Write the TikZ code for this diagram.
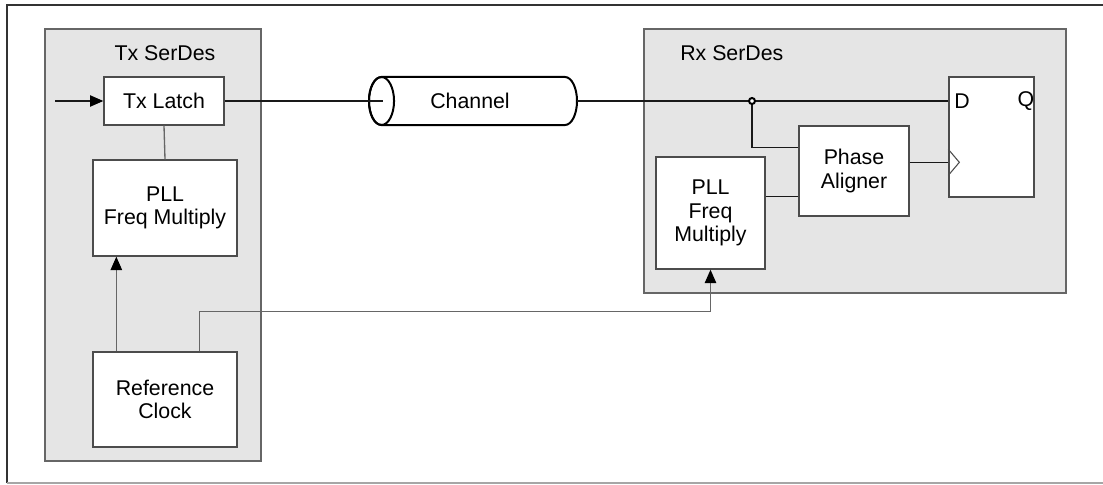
\documentclass[tikz,border=0pt]{standalone}
\usepackage{fontspec}
\setmainfont{Liberation Sans}
\usetikzlibrary{calc,arrows.meta}
\newlength\pxu
\setlength\pxu{0.75pt}
\begin{document}
\begin{tikzpicture}[x=0.75pt,y=-0.75pt,
  font=\fontsize{16}{17.5}\selectfont,
  container/.style={draw=black!60,line width=1.2pt,fill=black!10,inner sep=0pt},
  blockbox/.style={draw=black!70,line width=1pt,fill=white,inner sep=0pt,align=center},
  wire/.style={draw=black!90,line width=0.9pt},
  graywire/.style={draw=black!60,line width=1pt},
  arr/.style={-{Triangle[length=10pt,width=8.5pt,fill=black,color=black]}},
  lbl/.style={inner sep=0pt}]
\useasboundingbox (0,0) rectangle (1103,485);
\fill[white] (0,0) rectangle (1103,485);
% outer frame
\draw[black!80,line width=1.2pt] (7,483) -- (7,5) -- (1103,5);
\draw[black!35,line width=1.2pt] (7,483) -- (1103,483);

% containers
\node[container,minimum width=216\pxu,minimum height=432\pxu] (txser) at (153,245) {};
\node[lbl] (txlbl) at (165,53) {Tx SerDes};
\node[container,minimum width=422\pxu,minimum height=264\pxu] (rxser) at (855,161) {};
\node[lbl,anchor=west] (rxlbl) at (680,53) {Rx SerDes};

% Tx blocks
\node[blockbox,minimum width=120\pxu,minimum height=48\pxu] (txlatch) at (164,101) {Tx Latch};
\node[blockbox,minimum width=144\pxu,minimum height=96\pxu] (txpll) at (165,208) {PLL\\Freq Multiply};
\node[blockbox,minimum width=144\pxu,minimum height=95\pxu] (refclk) at (165,399.5) {Reference\\Clock};

% Rx blocks
\node[blockbox,minimum width=85\pxu,minimum height=120\pxu] (ff) at (991.5,137) {};
\node[lbl] (dlbl) at (962,101) {D};
\node[lbl] (qlbl) at (1026,101) {Q};
\node[blockbox,minimum width=110\pxu,minimum height=90\pxu] (pa) at (854,171) {Phase\\Aligner};
\node[blockbox,minimum width=109\pxu,minimum height=112\pxu] (rxpll) at (710.5,213) {PLL\\Freq\\Multiply};

% channel
\draw[black,line width=1.5pt,fill=white] (381.5,77) -- (565,77) arc[start angle=90,end angle=-90,x radius=9pt,y radius=18pt] -- (381.5,125) arc[start angle=-90,end angle=-270,x radius=9.4pt,y radius=18pt] -- cycle;
\draw[black,line width=1.5pt] (381.5,101) ellipse[x radius=9.4pt,y radius=18pt];
\node[lbl,minimum width=208\pxu,minimum height=48\pxu] (channel) at (473,101) {};
\node[lbl] (chlbl) at (470,101) {Channel};
\coordinate (chin) at (383,101);
\coordinate (chout) at (577,101);

% clock triangle
\coordinate (clk) at ($(ff.north west)+(0,86)$);
\draw[black!70,line width=0.8pt] ($(clk)+(0,-13)$) -- ($(clk)+(11,0)$) -- ($(clk)+(0,13)$);

% connectors
\coordinate (txin) at (55,101);
\draw[wire,arr] (txin) -- (txlatch.west);
\draw[graywire] (txlatch.south) -- (txpll.north);
\draw[graywire,arr] ($(refclk.north west)+(24,0)$) -- ($(txpll.south west)+(24,0)$);
\draw[graywire,arr] ($(refclk.north west)+(107,0)$) -- ++(0,-40) -| (rxpll.south);
\draw[wire] (txlatch.east) -- (chin);
\draw[wire] (chout) -- (chout -| ff.west);
\coordinate (junc) at (752,101);
\draw[wire] (junc) |- ($(pa.north west)+(0,22)$);
\draw[wire] ($(rxpll.north east)+(0,40)$) -- ($(pa.north west)+(0,71)$);
\draw[wire] (clk -| pa.east) -- (clk);
\draw[black,line width=1.5pt,fill=white] (junc) circle[radius=3];
\end{tikzpicture}
\end{document}
